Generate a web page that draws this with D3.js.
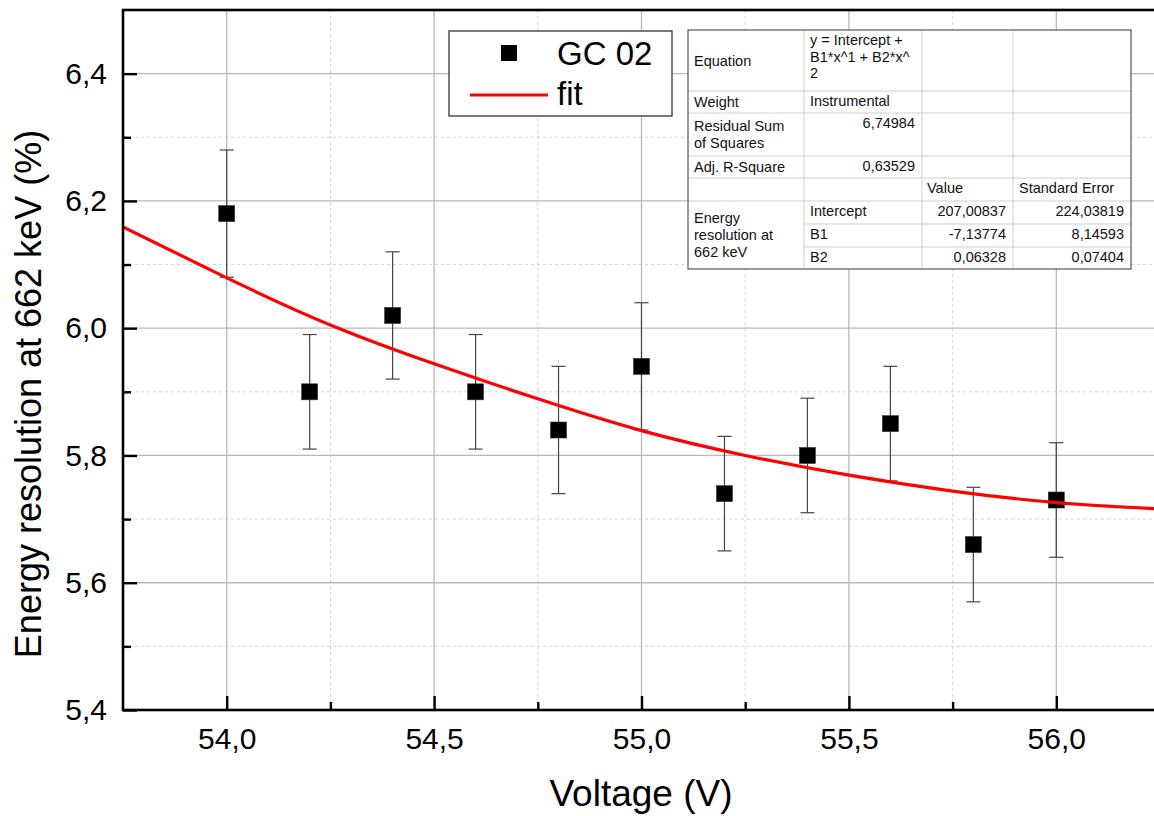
<!DOCTYPE html>
<html>
<head>
<meta charset="utf-8">
<script src="https://cdn.jsdelivr.net/npm/d3@7"></script>
<style>
  html, body { margin: 0; padding: 0; background: #fff; }
  svg { display: block; }
  text { font-family: "Liberation Sans", Arial, sans-serif; }
</style>
</head>
<body>
<svg id="chart" width="1154" height="816"></svg>
<script>
// ---- data ----
const voltage = [54.0, 54.2, 54.4, 54.6, 54.8, 55.0, 55.2, 55.4, 55.6, 55.8, 56.0];
const resolution = [6.18, 5.90, 6.02, 5.90, 5.84, 5.94, 5.74, 5.80, 5.85, 5.66, 5.73];
const resolutionErr = [0.10, 0.09, 0.10, 0.09, 0.10, 0.10, 0.09, 0.09, 0.09, 0.09, 0.09];
const fitX = [53.75, 54.0, 54.25, 54.5, 54.75, 55.0, 55.25, 55.5, 55.75, 56.0, 56.25];
const fitY = [6.159, 6.079, 6.005, 5.944, 5.889, 5.839, 5.800, 5.769, 5.744, 5.726, 5.716];
const xMajorTicks = [54.0, 54.5, 55.0, 55.5, 56.0];
const xMinorTicks = [54.25, 54.75, 55.25, 55.75, 56.25];
const yMajorTicks = [5.4, 5.6, 5.8, 6.0, 6.2, 6.4];
const yMinorTicks = [5.5, 5.7, 5.9, 6.1, 6.3];
const seriesNames = ["GC 02", "fit"];
const xTitle = "Voltage (V)";
const yTitle = "Energy resolution at 662 keV (%)";
// fit table columns
const tableCol1 = ["Equation", "Weight", "Residual Sum\nof Squares", "Adj. R-Square", "", "Energy\nresolution at\n662 keV"];
const tableCol2 = ["y = Intercept +\nB1*x^1 + B2*x^\n2", "Instrumental", "6,74984", "0,63529", "", "Intercept", "B1", "B2"];
const tableCol3 = ["", "", "", "", "Value", "207,00837", "-7,13774", "0,06328"];
const tableCol4 = ["", "", "", "", "Standard Error", "224,03819", "8,14593", "0,07404"];

const fmt = v => d3.format(".1f")(v).replace(".", ",");

// ---- layout ----
const svg = d3.select("#chart");
const L = 123, T = 10, R = 1160, B = 710;
const x = d3.scaleLinear().domain([53.75, 56.25]).range([L, R]);
const y = d3.scaleLinear().domain([5.4, 6.5]).range([B, T]);

svg.append("defs").append("clipPath").attr("id", "clip")
  .append("rect").attr("x", L).attr("y", T).attr("width", R - L).attr("height", B - T);

// grid
const grid = svg.append("g");
grid.selectAll(".gmx").data(xMinorTicks).join("line")
  .attr("x1", d => x(d)).attr("x2", d => x(d)).attr("y1", T).attr("y2", B)
  .attr("stroke", "#d4d4d4").attr("stroke-width", 1).attr("stroke-dasharray", "3,3");
grid.selectAll(".gmy").data(yMinorTicks).join("line")
  .attr("x1", L).attr("x2", R).attr("y1", d => y(d)).attr("y2", d => y(d))
  .attr("stroke", "#d4d4d4").attr("stroke-width", 1).attr("stroke-dasharray", "3,3");
grid.selectAll(".gMx").data(xMajorTicks).join("line")
  .attr("x1", d => x(d)).attr("x2", d => x(d)).attr("y1", T).attr("y2", B)
  .attr("stroke", "#b8b8b8").attr("stroke-width", 1.3);
grid.selectAll(".gMy").data(yMajorTicks.filter(d => d > 5.4)).join("line")
  .attr("x1", L).attr("x2", R).attr("y1", d => y(d)).attr("y2", d => y(d))
  .attr("stroke", "#b8b8b8").attr("stroke-width", 1.3);

// error bars
const plot = svg.append("g").attr("clip-path", "url(#clip)");
const pts = voltage.map((v, i) => ({ x: v, y: resolution[i], e: resolutionErr[i] }));
const eb = plot.append("g").attr("stroke", "#444").attr("stroke-width", 1.2);
eb.selectAll(".ev").data(pts).join("line")
  .attr("x1", d => x(d.x)).attr("x2", d => x(d.x))
  .attr("y1", d => y(d.y + d.e)).attr("y2", d => y(d.y - d.e));
eb.selectAll(".et").data(pts).join("line")
  .attr("x1", d => x(d.x) - 7).attr("x2", d => x(d.x) + 7)
  .attr("y1", d => y(d.y + d.e)).attr("y2", d => y(d.y + d.e));
eb.selectAll(".eb").data(pts).join("line")
  .attr("x1", d => x(d.x) - 7).attr("x2", d => x(d.x) + 7)
  .attr("y1", d => y(d.y - d.e)).attr("y2", d => y(d.y - d.e));

// markers
plot.selectAll(".pt").data(pts).join("rect")
  .attr("x", d => x(d.x) - 8).attr("y", d => y(d.y) - 8)
  .attr("width", 16).attr("height", 16)
  .attr("fill", "#000").attr("stroke", "#333").attr("stroke-width", 0.6);

// fit line
const fitPts = fitX.map((v, i) => [v, fitY[i]]);
plot.append("path").datum(fitPts)
  .attr("fill", "none").attr("stroke", "#ff0000").attr("stroke-width", 3.2)
  .attr("d", d3.line().x(d => x(d[0])).y(d => y(d[1])).curve(d3.curveNatural));

// frame
svg.append("rect").attr("x", L).attr("y", T).attr("width", R - L).attr("height", B - T)
  .attr("fill", "none").attr("stroke", "#000").attr("stroke-width", 2.6);

// axes
const gx = svg.append("g").attr("transform", `translate(0,${B})`)
  .call(d3.axisBottom(x).tickValues(xMajorTicks).tickSize(-14).tickFormat(fmt).tickPadding(18));
gx.select(".domain").remove();
gx.selectAll(".tick line").attr("stroke", "#000").attr("stroke-width", 2.4);
gx.selectAll(".tick text").attr("font-size", 30).attr("fill", "#000")
  .attr("font-family", "Liberation Sans, Arial, sans-serif");
const gx2 = svg.append("g").attr("transform", `translate(0,${B})`)
  .call(d3.axisBottom(x).tickValues(xMinorTicks).tickSize(-8).tickFormat(""));
gx2.select(".domain").remove();
gx2.selectAll(".tick line").attr("stroke", "#000").attr("stroke-width", 2.4);

const gy = svg.append("g").attr("transform", `translate(${L},0)`)
  .call(d3.axisLeft(y).tickValues(yMajorTicks).tickSize(-14).tickFormat(fmt).tickPadding(16));
gy.select(".domain").remove();
gy.selectAll(".tick line").attr("stroke", "#000").attr("stroke-width", 2.4);
gy.selectAll(".tick text").attr("font-size", 30).attr("fill", "#000")
  .attr("font-family", "Liberation Sans, Arial, sans-serif");
const gy2 = svg.append("g").attr("transform", `translate(${L},0)`)
  .call(d3.axisLeft(y).tickValues(yMinorTicks).tickSize(-8).tickFormat(""));
gy2.select(".domain").remove();
gy2.selectAll(".tick line").attr("stroke", "#000").attr("stroke-width", 2.4);

// titles
svg.append("text").attr("x", 641).attr("y", 806).attr("text-anchor", "middle")
  .attr("font-size", 37).attr("fill", "#000").text(xTitle);
svg.append("text").attr("transform", "translate(41,394) rotate(-90)").attr("text-anchor", "middle")
  .attr("font-size", 36).attr("fill", "#000").text(yTitle);

// legend
const lg = svg.append("g");
lg.append("rect").attr("x", 449).attr("y", 31).attr("width", 223).attr("height", 85)
  .attr("fill", "#fff").attr("stroke", "#333").attr("stroke-width", 1.3);
lg.append("rect").attr("x", 501).attr("y", 45).attr("width", 16).attr("height", 16).attr("fill", "#000");
lg.append("text").attr("x", 557).attr("y", 65).attr("font-size", 33).attr("fill", "#000").text(seriesNames[0]);
lg.append("line").attr("x1", 470).attr("x2", 548).attr("y1", 95).attr("y2", 95)
  .attr("stroke", "#ff0000").attr("stroke-width", 3.2);
lg.append("text").attr("x", 557).attr("y", 105).attr("font-size", 33).attr("fill", "#000").text(seriesNames[1]);

// fit table
const tb = svg.append("g");
const colX = [688, 804, 922, 1013, 1131];
const rowY = [30, 91, 113, 156, 178, 201, 224, 247, 269];
tb.append("rect").attr("x", colX[0]).attr("y", rowY[0]).attr("width", colX[4] - colX[0]).attr("height", rowY[8] - rowY[0])
  .attr("fill", "#fff");
const inner = tb.append("g").attr("stroke", "#cfcfcf").attr("stroke-width", 1);
rowY.slice(1, 8).forEach((ry, i) => {
  const startX = (i >= 5) ? colX[1] : colX[0];
  inner.append("line").attr("x1", startX).attr("x2", colX[4]).attr("y1", ry).attr("y2", ry);
});
colX.slice(1, 4).forEach(cx => {
  inner.append("line").attr("x1", cx).attr("x2", cx).attr("y1", rowY[0]).attr("y2", rowY[8]);
});
tb.append("rect").attr("x", colX[0]).attr("y", rowY[0]).attr("width", colX[4] - colX[0]).attr("height", rowY[8] - rowY[0])
  .attr("fill", "none").attr("stroke", "#555").attr("stroke-width", 1.2);

const fs = 14.5, lh = 16.7;
function cellText(txt, xPos, baseY, anchor) {
  if (!txt) return;
  const t = tb.append("text").attr("x", xPos).attr("y", baseY).attr("font-size", fs)
    .attr("fill", "#111").attr("text-anchor", anchor);
  txt.split("\n").forEach((line, k) => {
    t.append("tspan").attr("x", xPos).attr("y", baseY + k * lh).text(line);
  });
}
const col1Rows = [[0, 1], [1, 2], [2, 3], [3, 4], [4, 5], [5, 8]];
tableCol1.forEach((txt, i) => {
  if (!txt) return;
  const [a, b] = col1Rows[i];
  const n = txt.split("\n").length;
  const mid = (rowY[a] + rowY[b]) / 2;
  const base = mid - (n - 1) * lh / 2 + 5;
  cellText(txt, colX[0] + 6, base, "start");
});
const rightAlignCol2 = [false, false, true, true, false, false, false, false];
tableCol2.forEach((txt, i) => {
  const base = rowY[i] + 15;
  if (rightAlignCol2[i]) cellText(txt, colX[2] - 7, base, "end");
  else cellText(txt, colX[1] + 6, base, "start");
});
tableCol3.forEach((txt, i) => {
  const base = rowY[i] + 15;
  if (i === 4) cellText(txt, colX[2] + 5, base, "start");
  else cellText(txt, colX[3] - 7, base, "end");
});
tableCol4.forEach((txt, i) => {
  const base = rowY[i] + 15;
  if (i === 4) cellText(txt, colX[3] + 6, base, "start");
  else cellText(txt, colX[4] - 7, base, "end");
});
</script>
</body>
</html>
